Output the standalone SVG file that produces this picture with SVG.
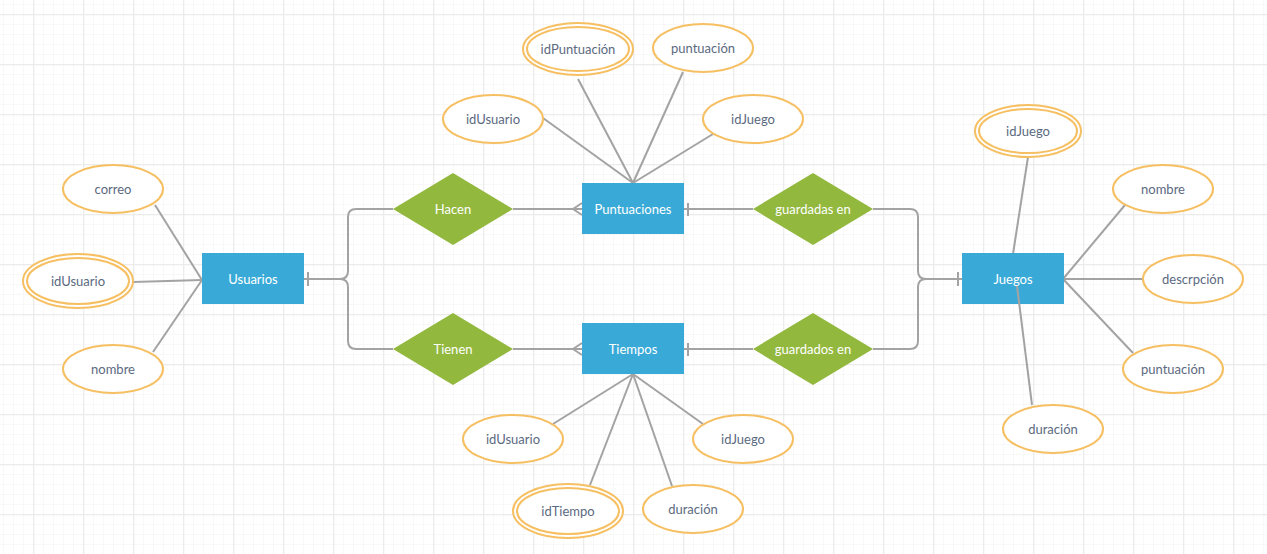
<svg xmlns="http://www.w3.org/2000/svg" width="1267" height="554" viewBox="0 0 1267 554">
<style>
.ent rect{fill:#39aad7}
.ent text{fill:#ffffff;font-family:Lato,"Open Sans",sans-serif;font-size:13px;text-anchor:middle;dominant-baseline:central}
.rel polygon{fill:#92b83e}
.rel text{fill:#ffffff;font-family:Lato,"Open Sans",sans-serif;font-size:13px;text-anchor:middle;dominant-baseline:central}
.att ellipse{fill:#ffffff;stroke:#f6bf62;stroke-width:2}
.att text{fill:#5b6a7f;font-family:Lato,"Open Sans",sans-serif;font-size:13px;text-anchor:middle;dominant-baseline:central}
.con path{fill:none;stroke:#a3a3a3;stroke-width:2}
</style>
<defs>
<pattern id="minor" x="3" y="4" width="10" height="10" patternUnits="userSpaceOnUse">
<rect x="0" y="0" width="10" height="1" fill="#f8f8f8"/>
<rect x="0" y="0" width="1" height="10" fill="#f8f8f8"/>
</pattern>
<pattern id="major" x="33" y="14" width="50" height="50" patternUnits="userSpaceOnUse">
<rect x="0" y="0" width="50" height="1.3" fill="#ececec"/>
<rect x="0" y="0" width="1.3" height="50" fill="#ececec"/>
</pattern>
</defs>
<rect width="1267" height="554" fill="#ffffff"/>
<rect width="1267" height="554" fill="url(#minor)"/>
<rect width="1267" height="554" fill="url(#major)"/>

<g id="connectors" class="con">
<path d="M155,205 L202,280"/>
<path d="M133,282 L202,280"/>
<path d="M153,352 L202,280"/>
<path d="M543,118 L633,183"/>
<path d="M578,79 L633,183"/>
<path d="M683,72 L633,183"/>
<path d="M713,134 L633,183"/>
<path d="M553,424 L633,374"/>
<path d="M590,485 L633,374"/>
<path d="M672,486 L633,374"/>
<path d="M703,424 L633,374"/>
<path d="M1028,157 L1013,254"/>
<path d="M1125,205 L1063,279"/>
<path d="M1143,279 L1063,279"/>
<path d="M1133,353 L1063,279"/>
<path d="M304,279 H340 Q348,279 348,271 V217 Q348,209 356,209 H393"/>
<path d="M304,279 H340 Q348,279 348,287 V341 Q348,349 356,349 H393"/>
<path d="M308,272 V286"/>
<path d="M513,209 H582 M573,209 L582,203 M573,209 L582,215"/>
<path d="M513,349 H582 M573,349 L582,343 M573,349 L582,355"/>
<path d="M684,209 H753 M688,203 V216"/>
<path d="M684,349 H753 M688,343 V356"/>
<path d="M873,209 H910 Q918,209 918,217 V271 Q918,279 926,279 H962"/>
<path d="M873,349 H910 Q918,349 918,341 V287 Q918,279 926,279 H962"/>
<path d="M958,272 V286"/>
</g>

<g id="Usuarios" class="ent"><rect x="202" y="253" width="102" height="51"/><text x="253" y="279">Usuarios</text></g>
<g id="Puntuaciones" class="ent"><rect x="582" y="183" width="102" height="51"/><text x="633" y="209">Puntuaciones</text></g>
<g id="Tiempos" class="ent"><rect x="582" y="323" width="102" height="51"/><text x="633" y="349">Tiempos</text></g>
<g id="Juegos" class="ent"><rect x="962" y="253" width="102" height="51"/><text x="1013" y="279">Juegos</text></g>
<g class="con"><path d="M1017,286 L1032,405"/></g>

<g id="Hacen" class="rel"><polygon points="393,209 453,173 513,209 453,245"/><text x="453" y="209">Hacen</text></g>
<g id="Tienen" class="rel"><polygon points="393,349 453,313 513,349 453,385"/><text x="453" y="349">Tienen</text></g>
<g id="guardadasEn" class="rel"><polygon points="753,209 813,173 873,209 813,245"/><text x="813" y="209">guardadas en</text></g>
<g id="guardadosEn" class="rel"><polygon points="753,349 813,313 873,349 813,385"/><text x="813" y="349">guardados en</text></g>

<g id="u_correo" class="att"><ellipse cx="113" cy="189" rx="50" ry="24"/><text x="113" y="189">correo</text></g>
<g id="u_idUsuario" class="att"><ellipse cx="78" cy="281" rx="55" ry="27"/><ellipse cx="78" cy="281" rx="51" ry="23"/><text x="78" y="281">idUsuario</text></g>
<g id="u_nombre" class="att"><ellipse cx="113" cy="369" rx="50" ry="24"/><text x="113" y="369">nombre</text></g>

<g id="p_idPuntuacion" class="att"><ellipse cx="578" cy="49" rx="55" ry="26"/><ellipse cx="578" cy="49" rx="51" ry="22"/><text x="578" y="49">idPuntuación</text></g>
<g id="p_puntuacion" class="att"><ellipse cx="703" cy="48" rx="50" ry="24"/><text x="703" y="48">puntuación</text></g>
<g id="p_idUsuario" class="att"><ellipse cx="493" cy="119" rx="50" ry="24"/><text x="493" y="119">idUsuario</text></g>
<g id="p_idJuego" class="att"><ellipse cx="753" cy="119" rx="50" ry="24"/><text x="753" y="119">idJuego</text></g>

<g id="t_idUsuario" class="att"><ellipse cx="513" cy="439" rx="50" ry="24"/><text x="513" y="439">idUsuario</text></g>
<g id="t_idTiempo" class="att"><ellipse cx="568" cy="511" rx="55" ry="27"/><ellipse cx="568" cy="511" rx="51" ry="23"/><text x="568" y="511">idTiempo</text></g>
<g id="t_duracion" class="att"><ellipse cx="693" cy="509" rx="50" ry="24"/><text x="693" y="509">duración</text></g>
<g id="t_idJuego" class="att"><ellipse cx="743" cy="439" rx="50" ry="24"/><text x="743" y="439">idJuego</text></g>

<g id="j_idJuego" class="att"><ellipse cx="1028" cy="131" rx="53" ry="26"/><ellipse cx="1028" cy="131" rx="49" ry="22"/><text x="1028" y="131">idJuego</text></g>
<g id="j_nombre" class="att"><ellipse cx="1163" cy="189" rx="50" ry="24"/><text x="1163" y="189">nombre</text></g>
<g id="j_descrpcion" class="att"><ellipse cx="1193" cy="279" rx="50" ry="24"/><text x="1193" y="279">descrpción</text></g>
<g id="j_puntuacion" class="att"><ellipse cx="1173" cy="369" rx="50" ry="24"/><text x="1173" y="369">puntuación</text></g>
<g id="j_duracion" class="att"><ellipse cx="1053" cy="429" rx="50" ry="24"/><text x="1053" y="429">duración</text></g>
</svg>
